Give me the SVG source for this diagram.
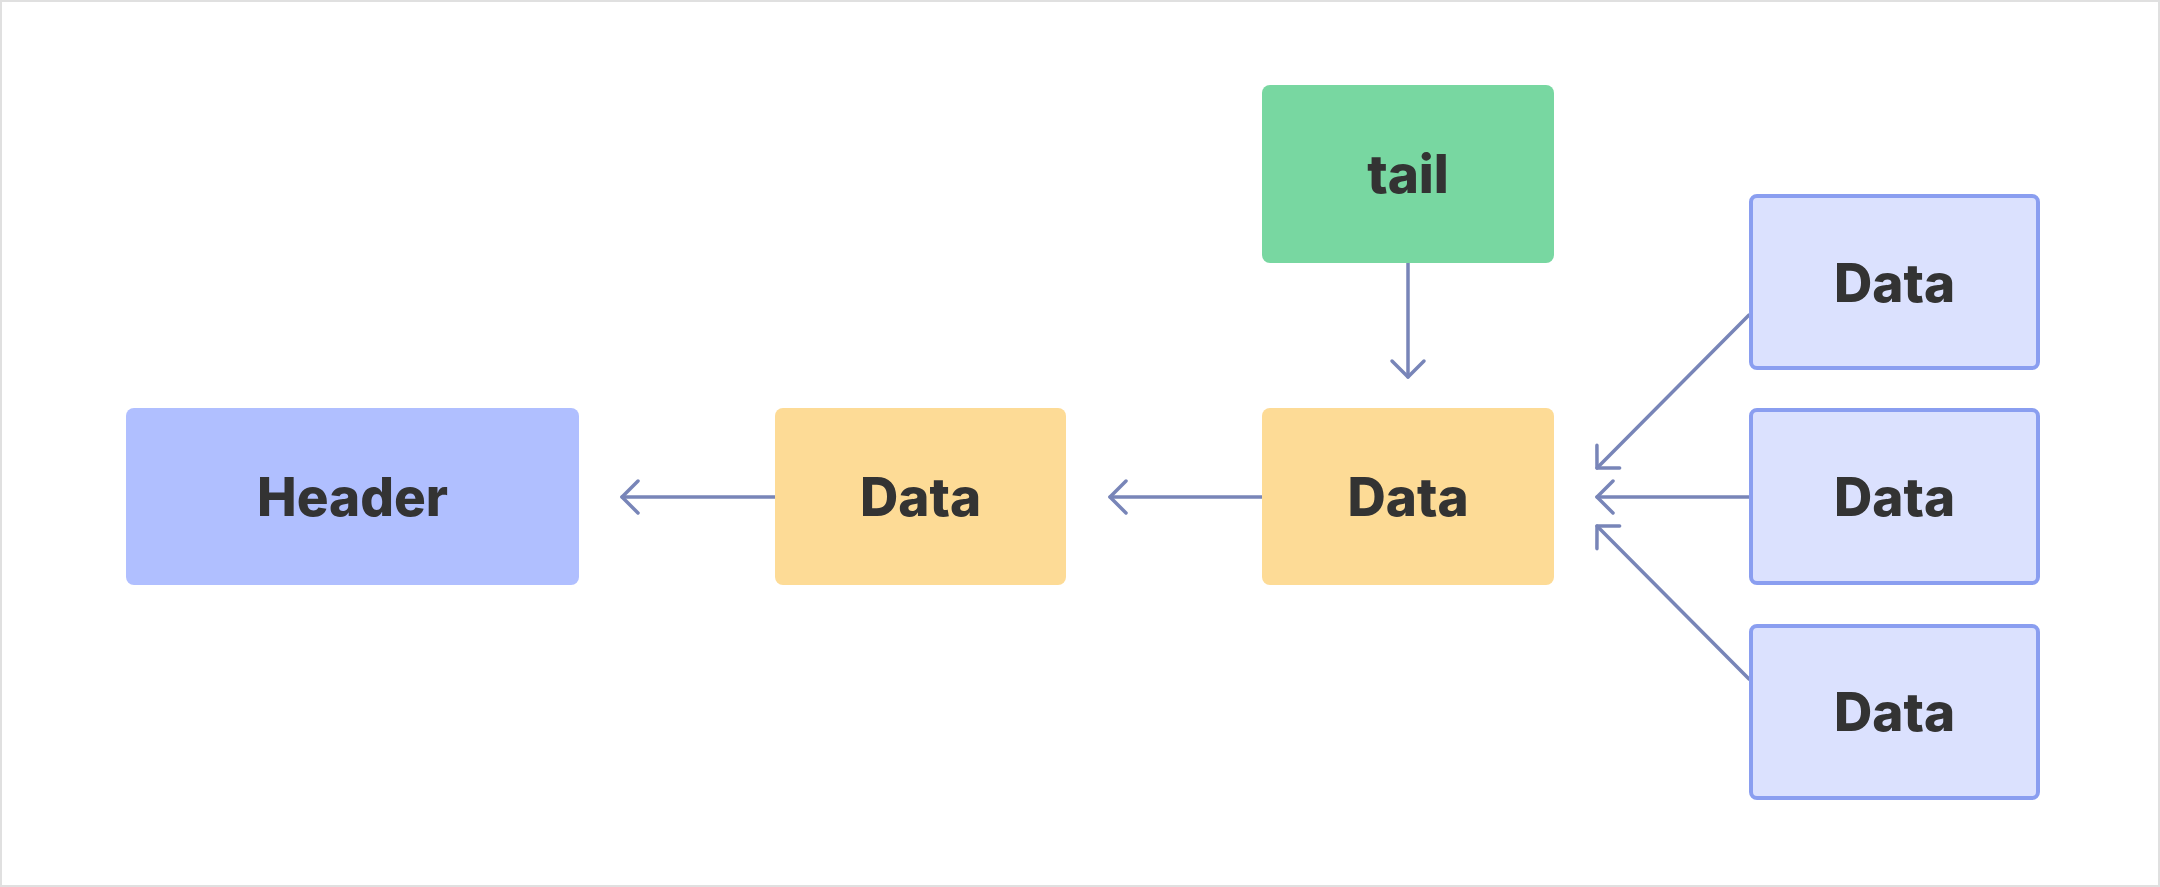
<svg xmlns="http://www.w3.org/2000/svg" width="2160" height="887" viewBox="0 0 2160 887">
  <defs>
    <style>
      .lbl { font-family: Inter, "Open Sans", "DejaVu Sans", sans-serif; font-weight: 800; font-size: 53px; fill: #333333; text-anchor: middle; }
      .conn { stroke: #7885b8; stroke-width: 3.5; fill: none; stroke-linecap: round; stroke-linejoin: round; }
      .side { fill: #dbe1fe; stroke: #8a9ef0; stroke-width: 4; }
    </style>
    <marker id="arr" viewBox="-25 -25 30 50" markerWidth="30" markerHeight="50" refX="0" refY="0" markerUnits="userSpaceOnUse" orient="auto">
      <path d="M -16 -16 L 0 0 L -16 16" fill="none" stroke="#7885b8" stroke-width="3.5" stroke-linecap="round" stroke-linejoin="round"/>
    </marker>
  </defs>
  <rect x="0" y="0" width="2160" height="887" fill="#ffffff"/>
  <rect x="1" y="1" width="2158" height="885" fill="none" stroke="#e0e0e0" stroke-width="2"/>

  <g id="connectors">
    <line class="conn" x1="1408" y1="263" x2="1408" y2="377" marker-end="url(#arr)"/>
    <line class="conn" x1="1262" y1="497" x2="1110" y2="497" marker-end="url(#arr)"/>
    <line class="conn" x1="775" y1="497" x2="622" y2="497" marker-end="url(#arr)"/>
    <line class="conn" x1="1749" y1="497" x2="1597" y2="497" marker-end="url(#arr)"/>
    <line class="conn" x1="1749" y1="315" x2="1597" y2="468" marker-end="url(#arr)"/>
    <line class="conn" x1="1749" y1="679" x2="1597" y2="526" marker-end="url(#arr)"/>
  </g>

  <g id="header">
    <rect x="126" y="408" width="453" height="177" rx="8" fill="#b0bfff"/>
    <text class="lbl" x="352.5" y="516">Header</text>
  </g>
  <g id="data-left">
    <rect x="775" y="408" width="291" height="177" rx="8" fill="#fddb96"/>
    <text class="lbl" x="920.5" y="516">Data</text>
  </g>
  <g id="data-mid">
    <rect x="1262" y="408" width="292" height="177" rx="8" fill="#fddb96"/>
    <text class="lbl" x="1408" y="516">Data</text>
  </g>
  <g id="tail">
    <rect x="1262" y="85" width="292" height="178" rx="8" fill="#78d7a1"/>
    <text class="lbl" x="1408" y="193">tail</text>
  </g>
  <g id="data-r1">
    <rect class="side" x="1751" y="196" width="287" height="172" rx="6"/>
    <text class="lbl" x="1894.5" y="302">Data</text>
  </g>
  <g id="data-r2">
    <rect class="side" x="1751" y="410" width="287" height="173" rx="6"/>
    <text class="lbl" x="1894.5" y="516">Data</text>
  </g>
  <g id="data-r3">
    <rect class="side" x="1751" y="626" width="287" height="172" rx="6"/>
    <text class="lbl" x="1894.5" y="731">Data</text>
  </g>
</svg>
